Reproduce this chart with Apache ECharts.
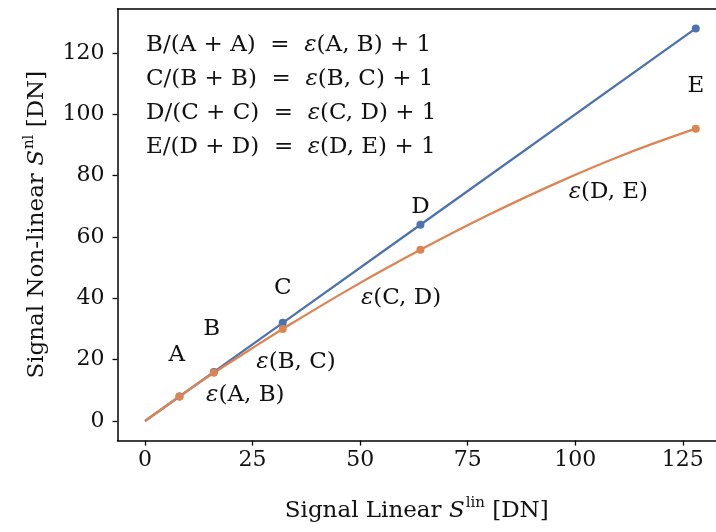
<!DOCTYPE html>
<html>
<head>
<meta charset="utf-8">
<script src="https://cdn.jsdelivr.net/npm/echarts@6/dist/echarts.min.js"></script>
<style>html,body{margin:0;padding:0;background:#fff}#c{width:716px;height:532px}</style>
</head>
<body>
<div id="c"></div>
<script>
// ---- data ----
var linearX = [0, 8, 16, 32, 64, 128];
var linearY = [0, 8, 16, 32, 64, 128];
var nonlinX = [0, 8, 16, 24, 32, 48, 64, 80, 96, 112, 128];
var nonlinY = [0, 8, 15.7, 22.9, 30, 43.4, 55.8, 67.3, 77.8, 87.2, 95.3];
var markerX = [8, 16, 32, 64, 128];
var markerLinY = [8, 16, 32, 64, 128];
var markerNonY = [8, 15.7, 30, 55.8, 95.3];
var xTicks = [0, 25, 50, 75, 100, 125];
var yTicks = [0, 20, 40, 60, 80, 100, 120];
var letters = ['A', 'B', 'C', 'D', 'E'];
var letterX = [7.4, 15.5, 32, 64, 128];
var letterY = [21.5, 30, 43.4, 69.8, 109.2];
var epsLabels = ['A, B', 'B, C', 'C, D', 'D, E'];
var epsX = [23.3, 35.1, 59.5, 107.7];
var epsY = [8.5, 19.2, 40.1, 74.7];
var formulas = [['B', 'A', 'A, B'], ['C', 'B', 'B, C'], ['D', 'C', 'C, D'], ['E', 'D', 'D, E']];

var FONT = '"DejaVu Serif", "Liberation Serif", serif';
var FS = 23;      // text size
var TFS = 22;     // tick label size
var TXT = '#111111';
var BLUE = '#4c72b0', ORANGE = '#dd8452';

function zip(a, b) { return a.map(function (v, i) { return [v, b[i]]; }); }

var chart = echarts.init(document.getElementById('c'), null, {renderer: 'canvas'});

var graphics = formulas.map(function (f, i) {
  return {
    type: 'text', left: 146, top: 34 + i * 34, z: 100,
    style: {
      text: f[0] + '/(' + f[1] + ' + ' + f[1] + ')  =  {e|ε}(' + f[2] + ') + 1',
      font: FS + 'px ' + FONT, fill: TXT,
      rich: {e: {fontStyle: 'italic', fontSize: FS, fontFamily: FONT, fill: TXT}}
    }
  };
});

function nameStyle() {
  return {fontFamily: FONT, fontSize: FS, color: TXT, lineHeight: 30,
    rich: {i: {fontStyle: 'italic', fontFamily: FONT, fontSize: FS, color: TXT, lineHeight: 30},
           s: {fontFamily: FONT, fontSize: 15, color: TXT, lineHeight: 18, verticalAlign: 'top', padding: [0, 0, 0, 1]}}};
}

var option = {
  animation: false,
  backgroundColor: '#fff',
  grid: {left: 117.5, top: 8.8, right: 0, bottom: 91.4, show: false, containLabel: false},
  xAxis: [{
    type: 'value', min: -6.4, max: 132.7,
    axisLine: {onZero: false, lineStyle: {color: '#000', width: 1.5}},
    axisTick: {show: true, length: 5, lineStyle: {color: '#000', width: 1.3}, customValues: xTicks},
    axisLabel: {customValues: xTicks, margin: 9, fontFamily: FONT, fontSize: TFS, color: TXT},
    splitLine: {show: false},
    name: 'Signal Linear {i|S}{s|lin} [DN]',
    nameLocation: 'middle', nameGap: 55,
    nameTextStyle: nameStyle()
  }, {
    type: 'value', position: 'top', min: -6.4, max: 132.7,
    axisLine: {show: true, onZero: false, lineStyle: {color: '#000', width: 1.5}},
    axisTick: {show: false}, axisLabel: {show: false}, splitLine: {show: false}
  }],
  yAxis: {
    type: 'value', min: -6.4, max: 134.4,
    axisLine: {onZero: false, show: true, lineStyle: {color: '#000', width: 1.5}},
    axisTick: {show: true, length: 5, lineStyle: {color: '#000', width: 1.3}, customValues: yTicks},
    axisLabel: {customValues: yTicks, margin: 13, fontFamily: FONT, fontSize: TFS, color: TXT},
    splitLine: {show: false},
    name: 'Signal Non-linear {i|S}{s|nl} [DN]',
    nameLocation: 'middle', nameGap: 64,
    nameTextStyle: nameStyle()
  },
  graphic: graphics,
  series: [
    {type: 'line', data: zip(linearX, linearY), showSymbol: false, lineStyle: {color: BLUE, width: 2.3}, z: 3},
    {type: 'line', data: zip(nonlinX, nonlinY), smooth: 0.4, showSymbol: false, lineStyle: {color: ORANGE, width: 2.3}, z: 4},
    {type: 'scatter', data: zip(markerX, markerLinY), symbolSize: 8, itemStyle: {color: BLUE, opacity: 1}, z: 5},
    {type: 'scatter', data: zip(markerX, markerNonY), symbolSize: 8, itemStyle: {color: ORANGE, opacity: 1}, z: 6},
    {type: 'scatter', data: letters.map(function (l, i) { return {value: [letterX[i], letterY[i]], name: l}; }),
     symbolSize: 0, silent: true, z: 10, itemStyle: {opacity: 1},
     label: {show: true, position: 'inside', formatter: '{b}', fontFamily: FONT, fontSize: FS, color: TXT, opacity: 1, textBorderWidth: 0}},
    {type: 'scatter', data: epsLabels.map(function (l, i) { return {value: [epsX[i], epsY[i]], name: l}; }),
     symbolSize: 0, silent: true, z: 10, itemStyle: {opacity: 1},
     label: {show: true, position: 'inside', formatter: '{e|ε}({b})', fontFamily: FONT, fontSize: FS, color: TXT, opacity: 1, textBorderWidth: 0,
       rich: {e: {fontStyle: 'italic', fontFamily: FONT, fontSize: FS, color: TXT}}}}
  ]
};
chart.setOption(option);
</script>
</body>
</html>
